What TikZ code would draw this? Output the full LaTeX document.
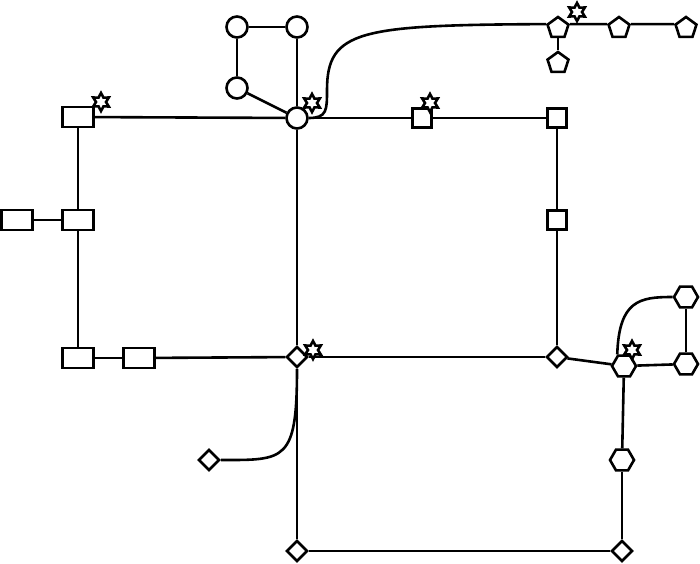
\documentclass[tikz,border=0pt]{standalone}
\usetikzlibrary{shapes.geometric}
\tikzset{
  box/.style={draw, fill=white, rectangle, minimum width=31pt, minimum height=20pt, inner sep=0pt},
  sqbox/.style={draw, fill=white, rectangle, minimum size=19pt, inner sep=0pt},
  rnd/.style={draw, fill=white, circle, minimum size=21pt, inner sep=0pt},
  dmd/.style={draw, fill=white, diamond, minimum size=21pt, inner sep=0pt},
  pent/.style={draw, fill=white, regular polygon, regular polygon sides=5, minimum size=22pt, inner sep=0pt},
  hexa/.style={draw, fill=white, regular polygon, regular polygon sides=6, minimum size=24pt, inner sep=0pt},
  flag/.style={draw, fill=white, star, star points=6, star point ratio=1.8, minimum size=18pt, inner sep=0pt},
}
\begin{document}
\begin{tikzpicture}[x=1pt,y=-1pt,line width=2.6pt]
\useasboundingbox (0,0) rectangle (700,563);
% rectangles
\foreach \n/\x/\y in {r1/78/117, r2/78/220, r3/17/220, r4/78/358, r5/139/358}
    \node[box] (\n) at (\x,\y) {};
% circles
\foreach \n/\x/\y in {c0/297/118, c1/237/88, c2/237/27, c3/297/27}
    \node[rnd] (\n) at (\x,\y) {};
% squares
\foreach \n/\x/\y in {s1/422/118, s2/557/118, s3/557/220}
    \node[sqbox] (\n) at (\x,\y) {};
% diamonds
\foreach \n/\x/\y in {d0/297/357, d1/557/357, d2/209/460, d3/297/551, d4/622/551}
    \node[dmd] (\n) at (\x,\y) {};
% pentagons
\foreach \n/\x/\y in {p0/558/28, p1/558/63, p2/619/28, p3/686/28}
    \node[pent] (\n) at (\x,\y) {};
% hexagons
\foreach \n/\x/\y in {h0/624/366, h1/686/364, h2/686/297, h3/622/460}
    \node[hexa] (\n) at (\x,\y) {};
% edges
\foreach \a/\b in {r1/c0, c0/s1, s1/s2, s2/s3, s3/d1, r1/r2, r2/r4, r2/r3, r4/r5, r5/d0,
                   c0/d0, d0/d1, d1/h0, h0/h1, h1/h2, h0/h3, h3/d4, d4/d3, d3/d0,
                   c0/c1, c1/c2, c2/c3, c3/c0, p0/p1}
    \draw (\a) -- (\b);
\draw (p0.18) -- (p2.162);
\draw (p2.18) -- (p3.162);
\draw (c0.east) .. controls (327,118) and (327,110) .. (327,90)
      .. controls (327,30) and (360,25) .. (p0.162);
\draw (d0.south) .. controls (297,462) and (285,460) .. (d2.east);
\draw (h0.120) .. controls (619,300) and (640,297) .. (h2.west);
% stars
\foreach \n/\x/\y in {f1/101/102, f2/312/103, f3/430/103, f4/577/12, f5/313/350, f6/632/350}
    \node[flag] (\n) at (\x,\y) {};
\end{tikzpicture}
\end{document}
